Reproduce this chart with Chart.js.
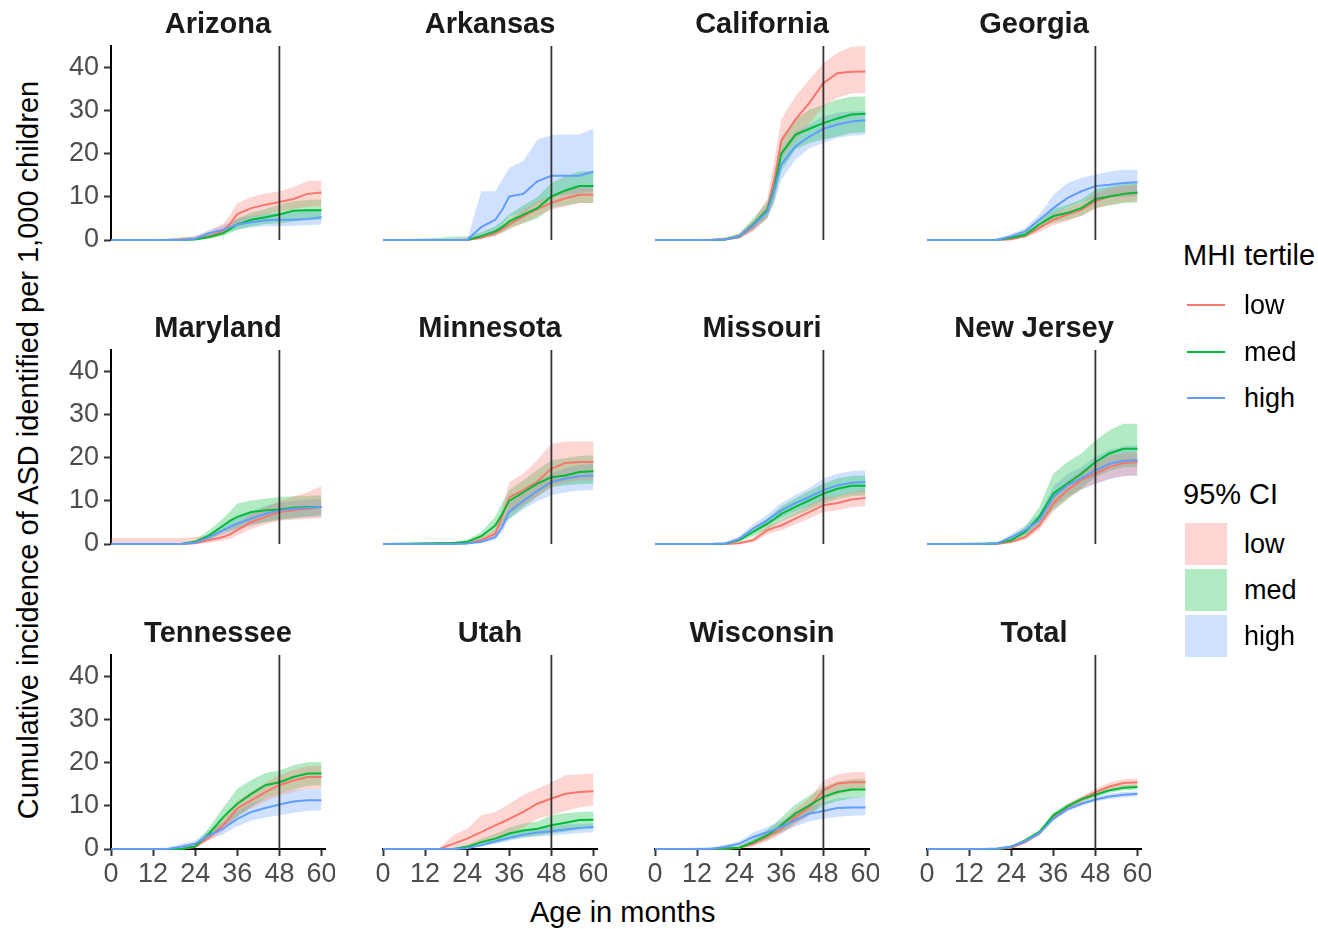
<!DOCTYPE html>
<html>
<head>
<meta charset="utf-8">
<script src="https://cdn.jsdelivr.net/npm/chart.js@4.4.1/dist/chart.umd.min.js"></script>
<style>
  body { margin: 0; background: #fff; font-family: "Liberation Sans", Arial, sans-serif; }
  #wrap { position: relative; width: 1318px; height: 929px; overflow: hidden; }
  .panel { position: absolute; width: 284px; height: 254px; }
  .strip { position: absolute; width: 214px; text-align: center; font-weight: bold; font-size: 29px; line-height: 32px; color: #1a1a1a; }
  .txt { position: absolute; white-space: nowrap; color: #000; }
  .key-line { position: absolute; height: 2px; width: 38px; }
  .key-fill { position: absolute; width: 42px; height: 42px; }
</style>
</head>
<body>
<div id="wrap">
  <div class="txt" style="left:530px; top:896px; font-size:29px; line-height:32px;">Age in months</div>
  <div class="txt" style="left:28px; top:450px; font-size:29px; line-height:32px; transform: translate(-50%,-50%) rotate(-90deg);">Cumulative incidence of ASD identified per 1,000 children</div>
  <div class="txt" style="left:1183px; top:239px; font-size:29px; line-height:32px;">MHI tertile</div>
  <div class="txt" style="left:1183px; top:478px; font-size:29px; line-height:32px;">95% CI</div>
</div>
<script>
const states = ["Arizona", "Arkansas", "California", "Georgia", "Maryland", "Minnesota",
  "Missouri", "New Jersey", "Tennessee", "Utah", "Wisconsin", "Total"];
const ages = [0, 16, 20, 24, 28, 32, 34, 36, 40, 44, 48, 52, 56, 60];
const xTicks = [0, 12, 24, 36, 48, 60];
const yTicks = [0, 10, 20, 30, 40];
const cutoffAge = 48;
const tertiles = ["low", "med", "high"];

// cumulative incidence per 1,000, one row per state (same order as states)
const lowEst = [
  [0,0,0.1,0.3,0.8,2.2,3.8,6.0,7.4,8.2,8.8,9.5,10.7,11.0],
  [0,0,0,0,0.5,1.6,2.5,3.6,5.5,7.2,8.6,9.7,10.5,10.5],
  [0,0,0.1,0.7,3.2,7.0,14.0,23.0,27.9,31.8,36.4,38.7,39.0,39.1],
  [0,0,0,0.2,1.0,2.8,3.8,4.7,5.9,7.0,9.0,10.1,10.7,10.9],
  [0,0,0,0.2,0.9,1.6,2.3,3.2,5.1,6.3,7.4,7.8,8.2,8.6],
  [0,0,0.1,0.2,0.9,2.4,6.5,10.8,12.5,14.5,17.5,18.8,19.0,19.0],
  [0,0,0,0.2,0.9,3.2,3.8,4.3,5.9,7.4,9.0,9.5,10.3,10.7],
  [0,0,0,0.5,1.6,4.3,6.8,9.4,12.5,14.8,16.3,17.9,18.8,19.0],
  [0,0,0,0.5,2.8,5.5,7.5,9.4,11.3,13.2,14.8,15.9,16.7,16.7],
  [0,0,1.2,2.4,3.9,5.5,6.2,7.0,8.6,10.5,11.7,12.8,13.2,13.4],
  [0,0,0,0.3,1.2,2.8,3.7,4.7,7.4,9.7,13.6,15.2,15.5,15.5],
  [0,0,0,0.3,1.6,3.6,5.5,7.4,9.7,11.5,13.2,14.5,15.3,15.5]
];
const lowLo = [
  [0,0,0,0,0.3,1.2,2.3,4.0,5.3,6.0,6.6,7.2,7.7,7.8],
  [0,0,0,0,0.2,0.9,1.6,2.5,4.0,5.5,7.0,7.8,8.6,8.6],
  [0,0,0,0.3,2.0,5.0,10.0,19.0,23.3,27.1,31.0,33.0,34.0,34.1],
  [0,0,0,0,0.5,1.8,2.6,3.4,4.4,5.5,7.2,8.2,8.8,9.0],
  [0,0,0,0,0.3,0.8,1.3,2.0,3.5,4.6,5.4,5.6,5.8,6.0],
  [0,0,0,0,0.4,1.6,4.5,7.0,9.0,11.0,13.2,14.3,14.8,14.8],
  [0,0,0,0,0.4,2.2,2.8,3.2,4.6,5.9,7.4,7.8,8.5,8.8],
  [0,0,0,0.2,1.0,3.2,5.3,7.6,10.5,12.7,14.0,15.2,15.8,15.9],
  [0,0,0,0.2,2.0,4.2,6.0,7.7,9.4,11.1,12.4,13.3,14.0,14.0],
  [0,0,0.2,0.6,1.6,2.6,3.1,3.6,5.0,7.0,7.8,8.8,9.6,10.1],
  [0,0,0,0,0.6,1.8,2.6,3.4,5.6,7.7,11.3,12.7,13.4,14.0],
  [0,0,0,0.2,1.3,3.2,5.0,6.9,9.1,10.8,12.4,13.6,14.4,14.6]
];
const lowHi = [
  [0,0.3,0.6,1.0,2.0,3.8,5.8,8.6,10.0,10.8,11.3,12.3,13.6,13.8],
  [0,0,0.3,0.5,1.0,2.5,3.5,4.8,7.0,9.0,10.3,11.5,12.2,12.2],
  [0,0.3,0.6,1.5,4.5,9.5,18.5,28.0,33.3,37.2,41.0,43.4,44.8,45.0],
  [0,0,0.3,0.6,1.6,3.8,5.0,6.2,7.5,8.6,10.8,12.0,12.6,12.8],
  [1.4,1.4,1.4,1.6,2.0,2.8,3.6,4.8,7.0,8.5,10.0,11.0,12.0,13.4],
  [0,0.3,0.5,0.6,1.6,3.5,8.0,14.4,16.3,19.4,23.3,23.7,23.8,23.8],
  [0,0,0.2,0.5,1.5,4.3,4.9,5.5,7.3,9.0,10.7,11.2,12.0,12.5],
  [0,0,0.3,0.9,2.3,5.5,8.3,11.3,14.6,17.0,19.0,20.5,21.1,21.3],
  [0,0,0.2,0.9,3.7,7.0,9.1,11.2,13.3,15.4,17.1,18.4,19.2,19.3],
  [0,0,3.2,4.7,7.8,8.6,9.5,10.5,12.5,14.0,15.5,17.1,17.3,17.5],
  [0,0,0.2,0.7,2.0,3.8,4.8,6.1,9.2,11.8,15.9,17.3,17.8,17.9],
  [0,0,0.1,0.4,1.9,4.0,6.0,7.9,10.3,12.2,14.0,15.4,16.2,16.4]
];

const medEst = [
  [0,0,0,0.1,0.7,1.6,2.6,3.6,4.7,5.3,5.9,6.8,6.9,6.9],
  [0,0,0,0,0.9,2.0,3.0,4.3,5.9,7.4,10.1,11.5,12.5,12.5],
  [0,0,0.1,0.85,3.6,7.0,12.0,20.0,24.4,25.8,27.1,28.2,29.1,29.3],
  [0,0,0,0.5,1.2,3.6,4.6,5.5,6.3,7.4,9.5,10.1,10.7,11.0],
  [0,0,0,0.5,2.0,4.3,5.4,6.3,7.4,7.8,8.0,8.4,8.6,8.6],
  [0,0.2,0.2,0.5,1.8,4.3,7.0,10.0,12.0,14.0,15.5,15.9,16.7,16.9],
  [0,0,0.1,0.9,2.8,4.7,5.8,7.0,8.6,10.1,11.7,12.8,13.5,13.5],
  [0,0,0.2,0.9,2.8,6.3,9.0,11.7,14.0,16.3,19.0,21.0,22.1,22.1],
  [0,0,0,0.6,3.6,7.4,9.0,10.5,12.8,14.8,15.5,16.7,17.5,17.5],
  [0,0,0,0.5,1.6,2.4,3.0,3.6,4.3,4.7,5.5,6.1,6.7,6.8],
  [0,0,0.1,0.3,1.6,3.2,4.3,5.5,8.2,10.1,12.1,13.2,13.8,13.8],
  [0,0,0,0.5,2.0,3.9,5.8,7.8,9.9,11.5,12.6,13.6,14.2,14.4]
];
const medLo = [
  [0,0,0,0,0.3,0.9,1.6,2.3,3.2,3.7,3.9,4.3,4.6,4.7],
  [0,0,0,0,0.4,1.0,1.8,2.7,3.9,5.0,7.4,8.0,8.6,8.6],
  [0,0,0,0.3,2.3,5.2,9.0,16.0,21.0,22.5,23.3,24.0,24.8,25.0],
  [0,0,0,0.2,0.6,2.4,3.3,4.0,4.7,5.6,7.4,8.0,8.5,8.7],
  [0,0,0,0.1,1.0,2.7,3.2,3.6,4.5,5.0,5.5,6.0,6.4,6.7],
  [0,0,0,0.2,1.0,2.8,4.4,5.9,8.5,11.0,13.2,13.6,13.9,14.0],
  [0,0,0,0.5,1.8,3.4,4.3,5.3,6.6,7.9,9.4,10.4,11.1,11.3],
  [0,0,0,0.4,1.7,4.3,6.0,7.8,10.3,12.9,15.5,17.0,17.8,17.9],
  [0,0,0,0.2,2.4,5.2,6.3,7.4,9.8,11.8,12.8,13.8,14.6,14.8],
  [0,0,0,0.1,0.8,1.4,1.8,2.2,2.8,3.1,3.6,4.0,4.5,4.7],
  [0,0,0,0,0.9,2.1,3.0,3.8,6.1,8.0,10.1,11.1,11.8,12.1],
  [0,0,0,0.3,1.6,3.4,5.2,7.2,9.3,10.9,12.0,13.0,13.6,13.8]
];
const medHi = [
  [0,0.3,0.5,0.6,1.4,2.6,3.7,5.0,6.4,7.2,8.2,9.0,9.3,9.4],
  [0,0.5,0.8,0.8,1.8,3.2,4.4,6.0,8.0,10.0,13.2,14.8,15.9,15.9],
  [0,0.3,0.6,1.5,5.0,9.0,15.0,24.0,27.9,30.2,31.4,32.6,33.2,33.3],
  [0,0,0.4,0.9,1.9,4.9,6.0,7.2,8.2,9.4,11.7,12.4,13.0,13.2],
  [0,0,0.2,1.0,3.2,6.0,7.6,9.4,10.1,10.5,10.9,11.1,11.2,11.3],
  [0,0.5,0.5,0.9,2.8,6.3,9.6,12.5,14.8,17.2,19.4,19.9,20.4,20.6],
  [0,0,0.2,1.3,3.8,6.0,7.3,8.7,10.6,12.3,14.0,15.2,15.8,15.9],
  [0,0.5,0.5,1.5,4.0,8.5,12.5,16.3,19.0,21.0,24.0,26.4,27.9,27.9],
  [0,0,0.2,1.1,5.0,9.6,11.8,14.0,16.0,17.6,18.2,19.4,20.1,20.2],
  [0,0,0.2,1.0,2.4,3.5,4.2,5.0,5.9,6.4,7.8,8.3,8.6,8.7],
  [0,0.4,0.5,0.7,2.4,4.5,5.8,7.3,10.3,12.4,14.4,15.6,16.1,16.3],
  [0,0,0.1,0.7,2.4,4.4,6.4,8.4,10.5,12.1,13.2,14.2,14.8,15.0]
];

const highEst = [
  [0,0,0,0.3,1.6,2.4,3.0,3.6,4.1,4.6,4.7,4.7,4.9,5.3],
  [0,0,0,0,3.0,4.7,7.0,10.1,10.7,13.6,14.9,14.9,14.9,15.9],
  [0,0,0.1,0.85,3.4,6.5,11.5,17.5,21.7,24.0,25.8,26.8,27.5,27.8],
  [0,0,0,0.9,2.0,4.7,6.0,7.4,9.7,11.3,12.5,12.8,13.2,13.4],
  [0,0,0,0.3,1.6,3.2,4.0,4.7,5.9,7.0,7.8,8.2,8.4,8.6],
  [0,0,0,0.1,0.5,1.6,4.0,7.5,10.0,12.3,14.4,15.2,15.7,15.9],
  [0,0,0.1,1.2,3.6,5.5,6.7,7.8,9.5,10.9,12.5,13.6,14.2,14.4],
  [0,0,0.1,1.6,3.2,5.5,8.2,10.9,13.6,15.2,17.1,18.6,19.3,19.4],
  [0,0,0.5,1.2,3.2,4.7,5.9,7.0,8.6,9.5,10.3,11.0,11.3,11.3],
  [0,0,0,0.2,0.9,1.8,2.2,2.6,3.3,3.8,4.1,4.5,4.9,5.1],
  [0,0,0.5,1.2,2.8,3.9,4.5,5.1,6.7,8.2,8.8,9.5,9.6,9.6],
  [0,0,0.1,0.6,1.8,3.6,5.3,7.0,9.2,10.5,11.5,12.2,12.6,12.8]
];
const highLo = [
  [0,0,0,0.1,1.0,1.6,2.0,2.5,2.9,3.2,3.2,3.3,3.4,3.6],
  [0,0,0,0,0.9,1.6,3.5,5.5,6.3,8.6,10.0,10.5,10.8,11.3],
  [0,0,0,0.4,2.4,5.0,8.5,14.0,18.6,21.3,22.5,23.7,24.2,24.4],
  [0,0,0,0.5,1.3,3.6,4.6,5.6,7.6,8.8,9.7,9.9,10.0,10.1],
  [0,0,0,0.1,1.0,2.2,2.8,3.3,4.2,5.2,5.8,6.0,6.2,6.3],
  [0,0,0,0,0.2,0.9,2.8,5.8,8.0,10.0,11.3,12.0,12.4,12.5],
  [0,0,0,0.6,2.6,4.2,5.2,6.1,7.6,8.8,10.1,11.1,11.8,12.1],
  [0,0,0,0.9,2.2,4.0,6.3,8.5,11.0,12.6,14.0,15.0,15.7,15.9],
  [0,0,0.1,0.6,2.2,3.4,4.4,5.3,6.6,7.3,7.8,8.4,8.8,9.0],
  [0,0,0,0.1,0.5,1.2,1.5,1.9,2.5,2.9,3.1,3.4,3.7,3.9],
  [0,0,0.1,0.7,1.9,2.8,3.3,3.8,5.2,6.4,7.0,7.5,7.7,7.8],
  [0,0,0,0.4,1.5,3.2,4.9,6.6,8.7,10.0,11.0,11.6,12.0,12.2]
];
const highHi = [
  [0,0,0.3,0.8,2.4,3.4,4.2,5.0,5.6,6.1,6.3,6.5,6.8,7.0],
  [0,0,0,0,11.3,11.3,14.0,16.7,18.3,23.3,24.3,24.5,24.5,25.8],
  [0,0.2,0.3,1.3,4.4,8.0,14.0,21.0,25.0,26.8,28.7,29.5,29.8,29.9],
  [0,0,0.3,1.4,2.8,6.0,8.0,10.5,13.2,14.4,15.2,15.9,16.3,16.3],
  [0,0,0.2,0.6,2.3,4.3,5.2,6.1,7.6,8.8,9.6,10.0,10.3,10.5],
  [0,0,0.1,0.3,0.9,2.4,5.3,9.2,12.0,14.5,16.3,17.6,18.3,18.6],
  [0,0,0.3,1.8,4.6,6.8,8.2,9.5,11.4,13.0,15.2,16.3,16.9,17.1],
  [0,0,0.3,2.3,4.3,7.0,10.1,13.3,16.2,17.8,20.2,21.8,22.6,22.9],
  [0,0.3,1.2,2.0,4.4,6.2,7.5,8.8,10.7,11.8,12.8,13.6,14.0,14.0],
  [0,0,0.2,0.4,1.4,2.4,2.9,3.4,4.2,4.7,5.1,5.6,5.8,5.9],
  [0,0.3,1.0,1.8,3.8,5.1,5.8,6.5,8.3,10.0,10.9,11.7,12.0,12.1],
  [0,0,0.2,0.8,2.1,4.0,5.7,7.4,9.7,11.0,12.0,12.8,13.2,13.4]
];

const estimates = [lowEst, medEst, highEst];
const lowerCI = [lowLo, medLo, highLo];
const upperCI = [lowHi, medHi, highHi];

const lineColors = ["#F8766D", "#00BA38", "#619CFF"];
const bandColors = ["rgba(248,118,109,0.3)", "rgba(0,186,56,0.3)", "rgba(97,156,255,0.3)"];
const FONT = "'Liberation Sans', Arial, sans-serif";

const colLeft = [111, 383, 655, 927];
const rowTop = [46, 350, 655];

const wrap = document.getElementById("wrap");

function pts(vals) {
  return ages.map((a, i) => ({ x: a, y: vals[i] }));
}

// fixed axis sizes so every panel's plot area lines up
function fixSize(s, w, h) {
  if (w !== null) s.width = w;
  if (h !== null) s.height = h;
  s.paddingLeft = 0;
  s.paddingRight = 0;
  s.paddingTop = 0;
  s.paddingBottom = 0;
}

// vertical reference line at 48 months
const cutoffLine = {
  id: "cutoffLine",
  afterDatasetsDraw(chart) {
    const { ctx, chartArea, scales } = chart;
    const x = scales.x.getPixelForValue(cutoffAge);
    ctx.save();
    ctx.strokeStyle = "#333333";
    ctx.lineWidth = 1.8;
    ctx.beginPath();
    ctx.moveTo(x, chartArea.top);
    ctx.lineTo(x, chartArea.bottom);
    ctx.stroke();
    ctx.restore();
  }
};

states.forEach((state, i) => {
  const r = Math.floor(i / 4);
  const c = i % 4;
  const showX = r === 2;
  const showY = c === 0;

  const box = document.createElement("div");
  box.className = "panel";
  box.style.left = (colLeft[c] - 60) + "px";
  box.style.top = (rowTop[r] - 10) + "px";
  const canvas = document.createElement("canvas");
  canvas.width = 284;
  canvas.height = 254;
  box.appendChild(canvas);
  wrap.appendChild(box);

  const strip = document.createElement("div");
  strip.className = "strip";
  strip.style.left = colLeft[c] + "px";
  strip.style.top = (rowTop[r] - 39) + "px";
  strip.textContent = state;
  wrap.appendChild(strip);

  const datasets = [];
  tertiles.forEach((t, k) => {
    datasets.push({
      label: t + " lower",
      data: pts(lowerCI[k][i]),
      borderWidth: 0,
      pointRadius: 0,
      fill: false,
      order: 10 + k
    });
    datasets.push({
      label: t + " upper",
      data: pts(upperCI[k][i]),
      borderWidth: 0,
      pointRadius: 0,
      backgroundColor: bandColors[k],
      fill: "-1",
      order: 10 + k
    });
  });
  tertiles.forEach((t, k) => {
    datasets.push({
      label: t,
      data: pts(estimates[k][i]),
      borderColor: lineColors[k],
      borderWidth: 2,
      pointRadius: 0,
      fill: false,
      clip: false,
      order: 2 - k
    });
  });

  const tickFont = { family: FONT, size: 27 };
  new Chart(canvas, {
    type: "line",
    data: { datasets },
    options: {
      responsive: false,
      animation: false,
      layout: { padding: { top: 10, right: 10, left: 0, bottom: 0 } },
      plugins: { legend: { display: false }, tooltip: { enabled: false } },
      scales: {
        x: {
          type: "linear",
          min: 0,
          max: 61,
          display: showX,
          afterBuildTicks: s => { s.ticks = xTicks.map(v => ({ value: v })); },
          afterFit: s => fixSize(s, null, 50),
          ticks: { color: "#4D4D4D", font: tickFont, padding: 2, maxRotation: 0, autoSkip: false },
          grid: { drawOnChartArea: false, drawTicks: true, tickLength: 7, tickColor: "#333333", tickWidth: 2 },
          border: { display: true, color: "#000000", width: 2 }
        },
        y: {
          type: "linear",
          min: 0,
          max: 45,
          display: showY,
          afterBuildTicks: s => { s.ticks = yTicks.map(v => ({ value: v })); },
          afterFit: s => fixSize(s, 60, null),
          ticks: { color: "#4D4D4D", font: tickFont, padding: 5, autoSkip: false },
          grid: { drawOnChartArea: false, drawTicks: true, tickLength: 7, tickColor: "#333333", tickWidth: 2 },
          border: { display: true, color: "#000000", width: 2 }
        }
      }
    },
    plugins: [cutoffLine]
  });
});

// legend: MHI tertile lines and 95% CI fills
const lineKeyY = [305, 352, 398];
const fillKeyY = [523, 569, 615];
tertiles.forEach((t, k) => {
  const ln = document.createElement("div");
  ln.className = "key-line";
  ln.style.left = "1187px";
  ln.style.top = (lineKeyY[k] - 1) + "px";
  ln.style.background = lineColors[k];
  wrap.appendChild(ln);
  const lt = document.createElement("div");
  lt.className = "txt";
  lt.style.cssText += "left:1244px;font-size:27px;line-height:32px;top:" + (lineKeyY[k] - 16) + "px";
  lt.textContent = t;
  wrap.appendChild(lt);

  const fb = document.createElement("div");
  fb.className = "key-fill";
  fb.style.left = "1185px";
  fb.style.top = fillKeyY[k] + "px";
  fb.style.background = bandColors[k];
  wrap.appendChild(fb);
  const ft = document.createElement("div");
  ft.className = "txt";
  ft.style.cssText += "left:1244px;font-size:27px;line-height:32px;top:" + (fillKeyY[k] + 21 - 16) + "px";
  ft.textContent = t;
  wrap.appendChild(ft);
});
</script>
</body>
</html>
